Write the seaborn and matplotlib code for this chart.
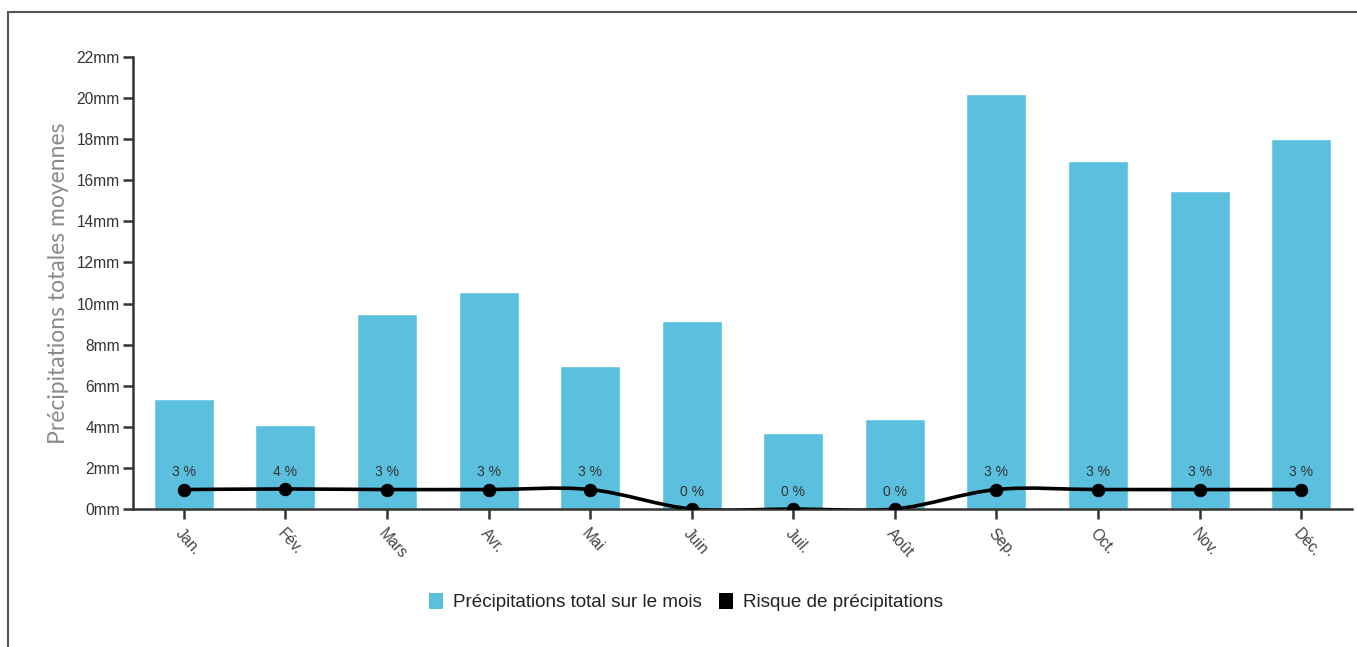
import numpy as np
import pandas as pd
import matplotlib
matplotlib.use("Agg")
import matplotlib.pyplot as plt
import seaborn as sns
from matplotlib.path import Path
from matplotlib.patches import PathPatch, Patch
from matplotlib.lines import Line2D

months = ["Jan.", "Fév.", "Mars", "Avr.", "Mai", "Juin", "Juil.", "Août", "Sep.", "Oct.", "Nov.", "Déc."]
precip_mm = [5.35, 4.1, 9.5, 10.55, 6.95, 9.15, 3.7, 4.37, 20.2, 16.95, 15.5, 18.0]
risk_pct = [3.4, 3.5, 3.4, 3.4, 3.4, 0.0, 0.0, 0.0, 3.4, 3.4, 3.4, 3.4]
y_ticks_mm = [0, 2, 4, 6, 8, 10, 12, 14, 16, 18, 20, 22]

BAR_COLOR = "#5bc0de"
TXT = "#333333"

sns.set_theme(style="white")
plt.rcParams['font.family'] = ['Liberation Sans', 'DejaVu Sans']

W, H = 1357, 647
fig = plt.figure(figsize=(W / 100, H / 100), dpi=100)
ax = fig.add_axes([133 / W, 1 - 509 / H, (1352 - 133) / W, (509 - 57) / H])

df = pd.DataFrame({"mois": months, "mm": precip_mm})
sns.barplot(data=df, x="mois", y="mm", color=BAR_COLOR, saturation=1, width=0.59, ax=ax, zorder=2)

ax.set_xlim(-0.5, len(months) - 0.5)
ax.set_ylim(0, 22)
ax.set_yticks(y_ticks_mm)
ax.set_yticklabels([f"{v}mm" for v in y_ticks_mm], fontsize=11.2, color=TXT)
ax.set_xticks(range(len(months)))
ax.set_xticklabels(months, rotation=-48, ha="left", va="top", rotation_mode="anchor",
                   fontsize=11.2, color="#444444")
ax.set_xlabel("")
ax.set_ylabel("Précipitations totales moyennes", fontsize=16.5, color="#8a8a8a",
              family=["Lato", "DejaVu Sans"])
ax.yaxis.set_label_coords(-64 / (1352 - 133), 0.5)

for s in ["top", "right"]:
    ax.spines[s].set_visible(False)
for s in ["left", "bottom"]:
    ax.spines[s].set_color(TXT)
    ax.spines[s].set_linewidth(1.8)
ax.tick_params(axis="both", which="major", length=7.5, width=1.8, color=TXT, direction="out",
               bottom=True, left=True, pad=2)
ax.tick_params(axis="x", pad=5)

# risk line on a hidden twin axis
ax2 = ax.twinx()
ax2.set_ylim(0, 79)
ax2.axis("off")
xs = np.arange(len(months), dtype=float)
ys = np.array(risk_pct, dtype=float)

# Catmull-Rom (cardinal, tension 0) curve through the data points, drawn as Bezier path
px = np.concatenate([[xs[0]], xs, [xs[-1]]])
py = np.concatenate([[ys[0]], ys, [ys[-1]]])
verts = [(xs[0], ys[0])]
codes = [Path.MOVETO]
for i in range(1, len(px) - 2):
    c1 = (px[i] + (px[i + 1] - px[i - 1]) / 6, py[i] + (py[i + 1] - py[i - 1]) / 6)
    c2 = (px[i + 1] - (px[i + 2] - px[i]) / 6, py[i + 1] - (py[i + 2] - py[i]) / 6)
    verts += [c1, c2, (px[i + 1], py[i + 1])]
    codes += [Path.CURVE4, Path.CURVE4, Path.CURVE4]
ax2.add_patch(PathPatch(Path(verts, codes), facecolor="none", edgecolor="black", lw=2.6,
                        zorder=3, clip_on=True))
sns.scatterplot(x=xs, y=ys, color="black", s=80, edgecolor="black", zorder=4, ax=ax2,
                clip_on=True, legend=False)
for x, v in zip(xs, ys):
    ax2.annotate(f"{int(v + 0.5)} %", (x, v), xytext=(0, 12.5), textcoords="offset points",
                 ha="center", va="center", fontsize=10, color=TXT, zorder=5)

handles = [Patch(facecolor=BAR_COLOR, edgecolor="none"), Patch(facecolor="black", edgecolor="none")]
fig.legend(handles, ["Précipitations total sur le mois", "Risque de précipitations"],
           loc="center", bbox_to_anchor=(686 / W, 1 - 602 / H), ncol=2, frameon=False,
           fontsize=13.6, handlelength=0.75, handleheight=0.95, handletextpad=0.55,
           columnspacing=0.9, labelcolor="#222222")

# frame lines of the original screenshot
fig.add_artist(Line2D([8 / W, 1], [1 - 12 / H, 1 - 12 / H], color="#555555", lw=1.5,
                      transform=fig.transFigure))
fig.add_artist(Line2D([8 / W, 8 / W], [0, 1 - 12 / H], color="#555555", lw=1.5,
                      transform=fig.transFigure))

fig.savefig("out.png", dpi=100)
